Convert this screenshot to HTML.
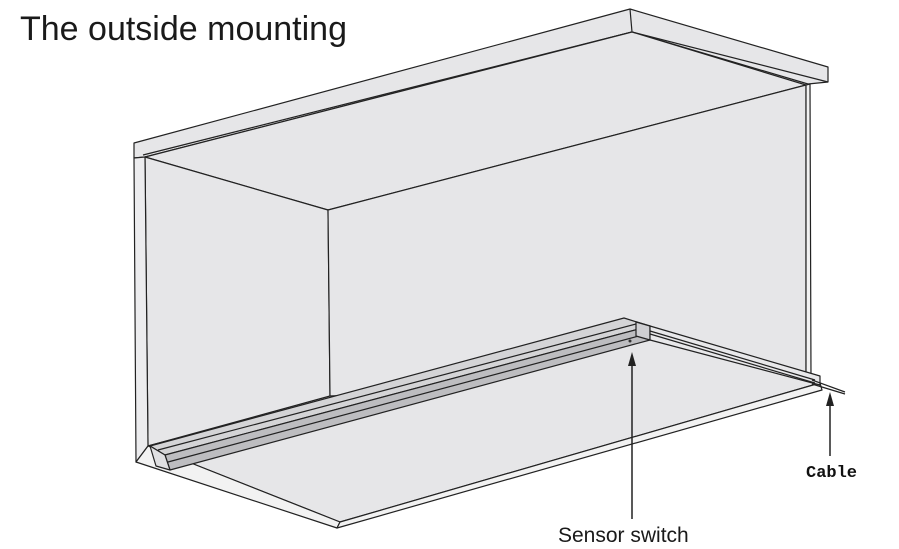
<!DOCTYPE html>
<html><head><meta charset="utf-8"><style>
html,body{margin:0;padding:0;background:#fff;}
svg{display:block;}
</style></head><body>
<svg width="899" height="549" viewBox="0 0 899 549" xmlns="http://www.w3.org/2000/svg">
<text x="20" y="40" font-family="Liberation Sans, sans-serif" font-size="34" fill="#1a1a1a">The outside mounting</text>
<g stroke="#222" stroke-width="1.2" stroke-linejoin="round" fill="#e6e6e8">
<!-- slab top surface strip -->
<polygon points="134,143 630,9 828,67 828,82 808,84 632,32 145,157 134,158"/>
<polyline points="143,155 632,32 828,82" fill="none"/>
<line x1="630" y1="9" x2="632" y2="32"/>
<!-- top panel underside -->
<polygon points="145,157 632,32 806,85 328,210"/>
<!-- left wall interior -->
<polygon points="145,157 328,210 330,396 148,446"/>
<!-- back wall -->
<polygon points="328,210 806,85 806,378 330,396"/>
<!-- left side panel -->
<polygon points="134,158 145,157 148,446 136,462" fill="#ececee"/>
<!-- floor -->
<polygon points="148,446 628,320 820,383 340,522"/>
<polygon points="136,462 148,446 340,522 337,528" fill="#f2f2f2"/>
<polygon points="820,383 822,390 337,528 340,522" fill="#f2f2f2"/>
<!-- right wall edge -->
<polygon points="806,85 810,84 811,378 806,378" fill="#f2f2f2"/>
<!-- light bar -->
<polygon points="150,446 624,318 650,326 165,455" fill="#d4d4d6"/>
<polygon points="165,455 650,326 650,340 170,470" fill="#bdbdc0"/>
<polygon points="150,446 165,455 170,470 156,466" fill="#e0e0e2"/>
<line x1="158" y1="450" x2="640" y2="323"/>
<line x1="168" y1="462" x2="650" y2="333"/>
<!-- sensor head -->
<polygon points="636,322 650,326 650,340 636,336" fill="#cfcfd2"/>
<!-- rail on right -->
<polygon points="650,326 820,376 820,385 650,340" fill="#e8e8ea"/>
<line x1="650" y1="331" x2="815" y2="380"/>
<line x1="650" y1="334" x2="815" y2="383"/>
<line x1="812" y1="380" x2="845" y2="392"/>
<line x1="812" y1="384" x2="845" y2="394"/>
</g>
<circle cx="630" cy="341" r="1.5" fill="#333"/>
<!-- arrows -->
<g stroke="#222" stroke-width="1.5">
<line x1="632" y1="519" x2="632" y2="362"/>
<line x1="830" y1="456" x2="830" y2="402"/>
</g>
<polygon points="632,352 628,366 636,366" fill="#222"/>
<polygon points="830,392 826,406 834,406" fill="#222"/>
<text x="806" y="477" font-family="Liberation Mono, monospace" font-weight="bold" font-size="17" fill="#111">Cable</text>
<text x="558" y="542" font-family="Liberation Sans, sans-serif" font-size="21" fill="#1a1a1a">Sensor switch</text>
</svg>
</body></html>
